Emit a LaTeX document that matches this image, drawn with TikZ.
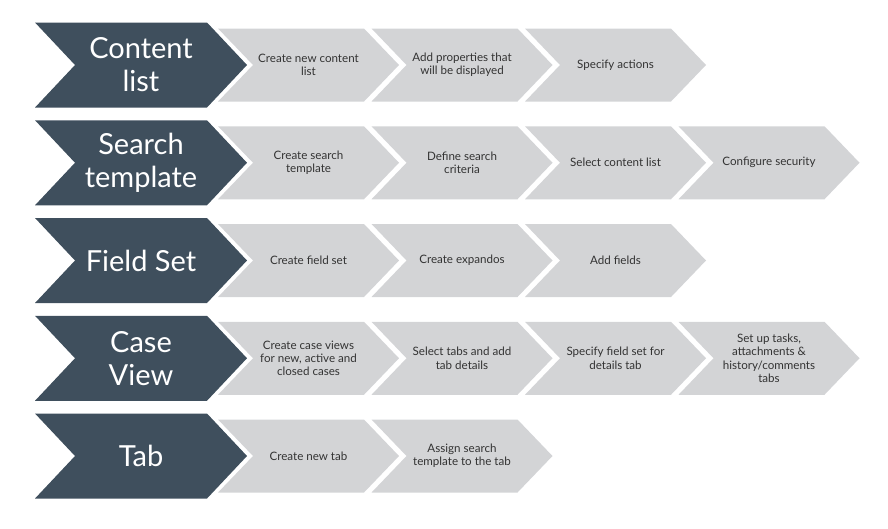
\documentclass[tikz,border=0pt]{standalone}
\usepackage{fontspec}
\setmainfont{Lato}
\definecolor{slate}{HTML}{3F4F5D}
\definecolor{stepgrey}{HTML}{D3D4D6}
\definecolor{steptext}{HTML}{333333}
% chevron: left x, centre y, width to corner, half height, point depth, colour
\newcommand{\chevron}[6]{%
  \fill[#6] ({#1},{#2-#4}) -- ++({#3},0) -- ++({#5},{#4}) -- ++({-#5},{#4})
    -- ++({-#3},0) -- ++({#5},{-#4}) -- cycle;}

\begin{document}
\begin{tikzpicture}[x=0.02cm,y=-0.02cm,
  lead/.style={text=white,font=\fontsize{16.5}{18.7}\selectfont,align=center},
  stepnote/.style={text=steptext,font=\fontsize{6.6}{7.6}\selectfont,align=center}]

  \useasboundingbox (0,0) rectangle (888,528);

  % grey steps, then the dark heads
  \foreach \yc/\n in {65/3,162.75/4,260.5/3,358.25/4,456/2} {
    \foreach \k in {1,...,\n} {
      \pgfmathsetmacro\xl{218+(\k-1)*153.5}
      \chevron{\xl}{\yc}{146}{36.5}{35}{stepgrey}
    }
    \chevron{35}{\yc}{172}{42.5}{40}{slate}
  }

  % content list
  \node[lead] (cl) at (141,65) {Content\\list};
  \node[stepnote] (cl1) at (308.5,65) {Create new content\\list};
  \node[stepnote] (cl2) at (462,65) {Add properties that\\will be displayed};
  \node[stepnote] (cl3) at (615.5,65) {Specify actions};

  % search template
  \node[lead] (st) at (141,162.75) {Search\\template};
  \node[stepnote] (st1) at (308.5,162.75) {Create search\\template};
  \node[stepnote] (st2) at (462,162.75) {Define search\\criteria};
  \node[stepnote] (st3) at (615.5,162.75) {Select content list};
  \node[stepnote] (st4) at (769,162.75) {Configure security};

  % field set
  \node[lead] (fs) at (141,260.5) {Field Set};
  \node[stepnote] (fs1) at (308.5,260.5) {Create field set};
  \node[stepnote] (fs2) at (462,260.5) {Create expandos};
  \node[stepnote] (fs3) at (615.5,260.5) {Add fields};

  % case view
  \node[lead] (cv) at (141,358.25) {Case\\View};
  \node[stepnote] (cv1) at (308.5,358.25) {Create case views\\for new, active and\\closed cases};
  \node[stepnote] (cv2) at (462,358.25) {Select tabs and add\\tab details};
  \node[stepnote] (cv3) at (615.5,358.25) {Specify field set for\\details tab};
  \node[stepnote] (cv4) at (769,358.25) {Set up tasks,\\attachments \&\\history/comments\\tabs};

  % tab
  \node[lead] (tb) at (141,456) {Tab};
  \node[stepnote] (tb1) at (308.5,456) {Create new tab};
  \node[stepnote] (tb2) at (462,456) {Assign search\\template to the tab};

\end{tikzpicture}
\end{document}
